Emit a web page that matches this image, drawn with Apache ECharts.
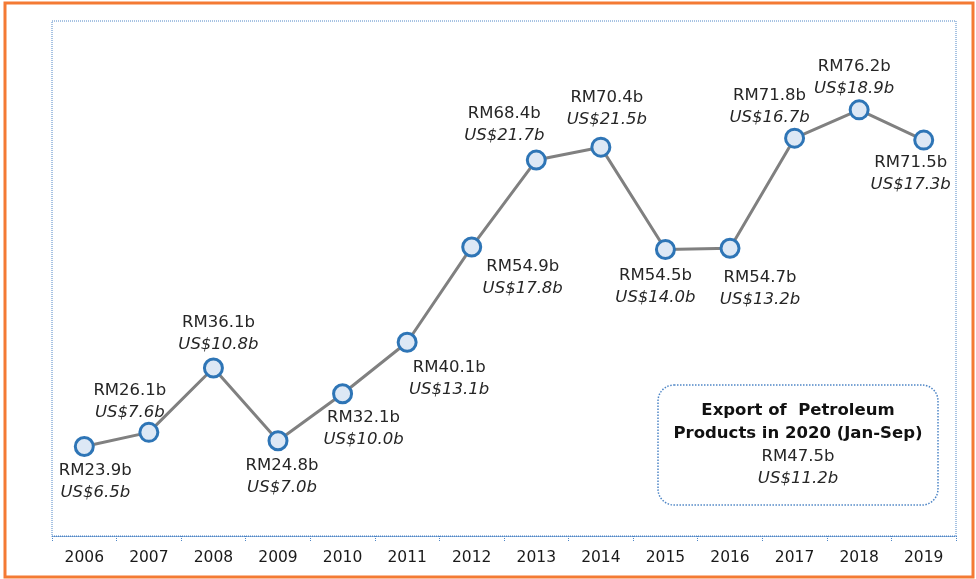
<!DOCTYPE html>
<html>
<head>
<meta charset="utf-8">
<script src="https://cdn.jsdelivr.net/npm/echarts@6/dist/echarts.min.js"></script>
<style>
html,body{margin:0;padding:0;background:#fff;}
#chart{width:976px;height:579px;}
</style>
</head>
<body>
<div id="chart"></div>
<script>
// ---- data ----
const years = ['2006','2007','2008','2009','2010','2011','2012','2013','2014','2015','2016','2017','2018','2019'];
const rmValues = [23.9, 26.1, 36.1, 24.8, 32.1, 40.1, 54.9, 68.4, 70.4, 54.5, 54.7, 71.8, 76.2, 71.5];
const usValues = [6.5, 7.6, 10.8, 7.0, 10.0, 13.1, 17.8, 21.7, 21.5, 14.0, 13.2, 16.7, 18.9, 17.3];
const noteTitle = ['Export of  Petroleum', 'Products in 2020 (Jan-Sep)'];
const noteRM = 47.5;
const noteUS = 11.2;

// ---- label placement (style) ----
const labelOffsets = [
  [11, 35], [-19, -31], [5, -34], [4, 36], [21, 35], [42, 36], [51, 31],
  [-32, -35], [6, -38], [-10, 37], [30, 40], [-25, -31], [-5, -32], [-13, 34]
];

const FONT = 'DejaVu Sans';
const chart = echarts.init(document.getElementById('chart'), null, {renderer: 'canvas'});

const seriesData = rmValues.map((v, i) => ({
  value: v,
  label: { offset: labelOffsets[i] }
}));

chart.setOption({
  animation: false,
  backgroundColor: '#ffffff',
  grid: {
    left: 52, right: 20, top: 21, bottom: 43,
    show: true,
    borderColor: '#4f86c6',
    borderWidth: 1,
    borderType: 'dotted'
  },
  xAxis: {
    type: 'category',
    data: years,
    boundaryGap: true,
    axisLine: { lineStyle: { color: '#4f86c6', type: 'dotted', width: 1 } },
    axisTick: { show: true, length: 5, lineStyle: { color: '#4f86c6', type: 'dotted' } },
    axisLabel: { color: '#1a1a1a', fontFamily: FONT, fontSize: 15.5, margin: 14 }
  },
  yAxis: {
    type: 'value',
    min: 10, max: 90,
    show: false,
    splitLine: { show: false }
  },
  series: [{
    type: 'line',
    data: seriesData,
    lineStyle: { color: '#808080', width: 3 },
    symbol: 'circle',
    symbolSize: 18,
    itemStyle: { color: '#dde8f5', borderColor: '#2e75b6', borderWidth: 3 },
    z: 3,
    label: {
      show: true,
      position: 'inside',
      align: 'center',
      verticalAlign: 'middle',
      formatter: p => '{a|RM' + rmValues[p.dataIndex].toFixed(1) + 'b}\n{b|US$' + usValues[p.dataIndex].toFixed(1) + 'b}',
      rich: {
        a: { fontFamily: FONT, fontSize: 16.5, color: '#262626', lineHeight: 22, align: 'center' },
        b: { fontFamily: FONT, fontSize: 16.5, color: '#262626', fontStyle: 'italic', lineHeight: 22, align: 'center' }
      }
    }
  }],
  graphic: [
    {
      type: 'rect',
      shape: { x: 5, y: 3, width: 968, height: 574 },
      style: { fill: null, stroke: '#f47a34', lineWidth: 3 },
      silent: true
    },
    {
      type: 'rect',
      shape: { x: 658, y: 385, width: 280, height: 120, r: 16 },
      style: { fill: '#ffffff', stroke: '#4f86c6', lineWidth: 1.5, lineDash: [1.5, 1.5] },
      silent: true
    },
    {
      type: 'text',
      x: 798, y: 411,
      style: { text: noteTitle[0], fontFamily: FONT, fontSize: 16.5, fontWeight: 'bold', fill: '#111', align: 'center', verticalAlign: 'middle' }
    },
    {
      type: 'text',
      x: 798, y: 434,
      style: { text: noteTitle[1], fontFamily: FONT, fontSize: 16.5, fontWeight: 'bold', fill: '#111', align: 'center', verticalAlign: 'middle' }
    },
    {
      type: 'text',
      x: 798, y: 457,
      style: { text: 'RM' + noteRM.toFixed(1) + 'b', fontFamily: FONT, fontSize: 16.5, fill: '#262626', align: 'center', verticalAlign: 'middle' }
    },
    {
      type: 'text',
      x: 798, y: 479,
      style: { text: 'US$' + noteUS.toFixed(1) + 'b', fontFamily: FONT, fontSize: 16.5, fontStyle: 'italic', fill: '#262626', align: 'center', verticalAlign: 'middle' }
    }
  ]
});
</script>
</body>
</html>
